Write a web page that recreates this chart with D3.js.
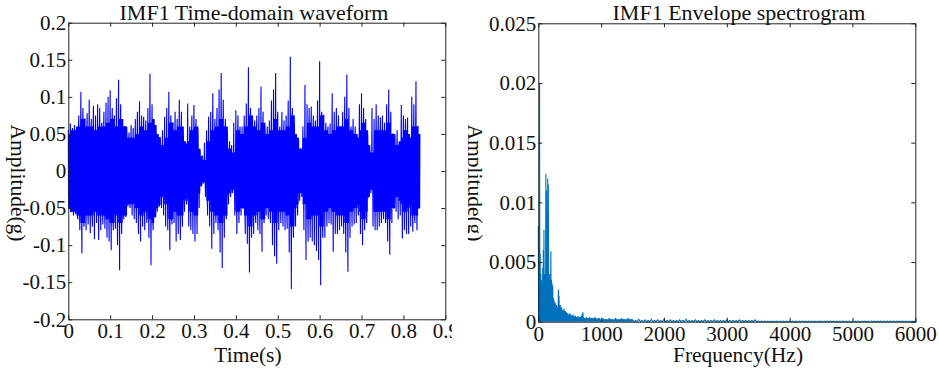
<!DOCTYPE html>
<html>
<head>
<meta charset="utf-8">
<script src="https://cdn.jsdelivr.net/npm/d3@7"></script>
<style>
  body { margin: 0; background: #fff; }
  text { font-family: "Liberation Serif", "Times New Roman", serif; fill: #111; }
</style>
</head>
<body>
<div id="chart"></div>
<script>
var width = 939, height = 374;

var waveStep = 0.005;
var waveHigh = [
  0.055,0.064,0.058,0.062,0.060,0.075,0.107,0.085,0.070,0.078,
  0.096,0.070,0.088,0.075,0.090,0.085,0.065,0.080,0.092,0.100,
  0.109,0.085,0.075,0.098,0.123,0.090,0.069,0.060,0.050,0.052,
  0.062,0.058,0.070,0.080,0.094,0.075,0.073,0.068,0.085,0.131,
  0.090,0.069,0.050,0.046,0.040,0.055,0.073,0.085,0.107,0.075,
  0.065,0.080,0.070,0.096,0.080,0.040,0.037,0.091,0.060,0.075,
  0.089,0.070,0.045,0.025,0.020,0.038,0.055,0.073,0.080,0.105,
  0.070,0.085,0.110,0.132,0.096,0.070,0.050,0.040,0.035,0.065,
  0.082,0.075,0.060,0.060,0.075,0.091,0.140,0.085,0.070,0.068,
  0.075,0.085,0.114,0.080,0.050,0.060,0.068,0.095,0.110,0.132,
  0.080,0.060,0.080,0.068,0.075,0.095,0.154,0.085,0.055,0.045,
  0.037,0.030,0.060,0.116,0.090,0.085,0.087,0.075,0.068,0.095,
  0.148,0.080,0.075,0.065,0.060,0.064,0.105,0.080,0.085,0.075,
  0.060,0.080,0.100,0.130,0.085,0.060,0.070,0.060,0.045,0.090,
  0.105,0.085,0.070,0.045,0.028,0.085,0.070,0.090,0.075,0.072,
  0.075,0.065,0.090,0.110,0.080,0.050,0.045,0.055,0.040,0.089,
  0.075,0.070,0.072,0.045,0.100,0.090,0.121,0.060
];
var waveLow = [
  -0.050,-0.055,-0.060,-0.058,-0.065,-0.080,-0.111,-0.075,-0.080,-0.072,
  -0.084,-0.075,-0.092,-0.070,-0.093,-0.080,-0.072,-0.078,-0.090,-0.095,
  -0.107,-0.080,-0.078,-0.100,-0.134,-0.085,-0.065,-0.062,-0.048,-0.050,
  -0.060,-0.065,-0.070,-0.085,-0.095,-0.075,-0.080,-0.070,-0.090,-0.127,
  -0.080,-0.062,-0.055,-0.048,-0.050,-0.060,-0.075,-0.080,-0.107,-0.072,
  -0.070,-0.095,-0.085,-0.093,-0.075,-0.055,-0.045,-0.075,-0.080,-0.085,
  -0.095,-0.085,-0.050,-0.020,-0.017,-0.035,-0.060,-0.075,-0.105,-0.085,
  -0.070,-0.080,-0.110,-0.131,-0.090,-0.065,-0.045,-0.035,-0.030,-0.060,
  -0.085,-0.070,-0.060,-0.050,-0.085,-0.098,-0.137,-0.090,-0.085,-0.070,
  -0.080,-0.085,-0.109,-0.070,-0.060,-0.065,-0.070,-0.100,-0.115,-0.125,
  -0.080,-0.070,-0.075,-0.080,-0.078,-0.110,-0.159,-0.090,-0.075,-0.060,
  -0.040,-0.035,-0.080,-0.120,-0.095,-0.090,-0.095,-0.100,-0.108,-0.120,
  -0.154,-0.090,-0.090,-0.075,-0.070,-0.072,-0.109,-0.085,-0.085,-0.080,
  -0.075,-0.085,-0.110,-0.136,-0.090,-0.075,-0.072,-0.070,-0.060,-0.085,
  -0.100,-0.080,-0.070,-0.035,-0.030,-0.075,-0.080,-0.080,-0.075,-0.070,
  -0.065,-0.070,-0.095,-0.113,-0.070,-0.050,-0.055,-0.065,-0.060,-0.091,
  -0.080,-0.085,-0.085,-0.075,-0.082,-0.070,-0.080,-0.050
];
// half-width of the solid blue core of the waveform, per 0.01 s
var coreStep = 0.01;
var waveCore = [
  0.055,0.055,0.060,0.070,0.060,0.060,0.055,0.060,0.060,0.065,
  0.070,0.060,0.070,0.060,0.045,0.045,0.050,0.060,0.055,0.065,
  0.070,0.050,0.035,0.045,0.065,0.055,0.060,0.060,0.040,0.055,
  0.060,0.030,0.015,0.040,0.055,0.060,0.070,0.060,0.030,0.025,
  0.055,0.050,0.060,0.075,0.060,0.055,0.065,0.050,0.055,0.070,
  0.055,0.055,0.060,0.075,0.050,0.030,0.045,0.065,0.060,0.060,
  0.075,0.055,0.050,0.055,0.060,0.060,0.070,0.055,0.050,0.055,
  0.065,0.055,0.025,0.055,0.055,0.055,0.065,0.050,0.035,0.045,
  0.055,0.050,0.060,0.060
];

// envelope spectrum peaks, 10 Hz bins from 0 to 1490 Hz
var specStep = 10;
var specLow = [
  0.0080,0.0058,0.0200,0.0057,0.0040,0.0035,0.0030,0.0045,0.0060,0.0077,
  0.0040,0.0035,0.0124,0.0110,0.0060,0.0120,0.0115,0.0040,0.0035,0.0040,
  0.0059,0.0035,0.0032,0.0030,0.0020,0.0018,0.0015,0.0016,0.0012,0.0014,
  0.0010,0.0013,0.0027,0.0022,0.0012,0.0014,0.0010,0.0012,0.0009,0.0010,
  0.0008,0.0011,0.0008,0.0009,0.0007,0.0008,0.0006,0.0007,0.0005,0.0006,
  0.0007,0.0005,0.0006,0.0004,0.0005,0.0006,0.0004,0.0005,0.0004,0.0005,
  0.0004,0.0003,0.0004,0.0005,0.0003,0.0004,0.0003,0.0004,0.0005,0.0004,
  0.0007,0.0008,0.0004,0.0003,0.0003,0.0002,0.0003,0.0004,0.0002,0.0003,
  0.0002,0.0003,0.0004,0.0003,0.0002,0.0003,0.0002,0.0003,0.0002,0.0003,
  0.0004,0.0002,0.0003,0.0002,0.0002,0.0003,0.0002,0.0003,0.0002,0.0002,
  0.0002,0.0001,0.0002,0.0003,0.0002,0.0001,0.0002,0.0002,0.0001,0.0002,
  0.0002,0.0001,0.0002,0.0003,0.0002,0.0001,0.0002,0.0002,0.0001,0.0002,
  0.0002,0.0001,0.0002,0.0003,0.0002,0.0001,0.0002,0.0002,0.0001,0.0002,
  0.0002,0.0001,0.0002,0.0003,0.0002,0.0001,0.0002,0.0002,0.0001,0.0002,
  0.0002,0.0001,0.0002,0.0003,0.0002,0.0001,0.0002,0.0002,0.0001,0.0002
];
// tail of the spectrum, 50 Hz bins from 1500 to 6000 Hz
var tailStep = 50;
var specTail = [
  0.00015,0.0001,0.0002,0.0001,0.00015,0.0001,0.0002,0.0001,0.00015,0.0001,
  0.0002,0.0001,0.00015,0.0001,0.0001,0.00015,0.0001,0.0002,0.0001,0.0001,
  0.00015,0.0001,0.0001,0.00015,0.0001,0.0001,0.00015,0.0001,0.0001,0.0001,
  0.00015,0.0001,0.0001,0.0001,0.00015,0.0001,0.0001,0.0001,0.0001,0.00015,
  0.00005,0.00005,0.00005,0.00005,0.00005,0.00005,0.00005,0.00005,0.00005,0.00005,
  0.00005,0.00005,0.00005,0.00005,0.00005,0.00005,0.00005,0.00005,0.00005,0.00005,
  0.00005,0.00005,0.00005,0.00005,0.00005,0.00005,0.00005,0.00005,0.00005,0.00005,
  0.00005,0.00005,0.00005,0.00005,0.00005,0.00005,0.00005,0.00005,0.00005,0.00005,
  0.00005,0.00005,0.00005,0.00005,0.00005,0.00005,0.00005,0.00005,0.00005,0.00005,
  0.00005
];

var timeTicks = [0, 0.1, 0.2, 0.3, 0.4, 0.5, 0.6, 0.7, 0.8, 0.9];
var ampTicks = [-0.2, -0.15, -0.1, -0.05, 0, 0.05, 0.1, 0.15, 0.2];
var freqTicks = [0, 1000, 2000, 3000, 4000, 5000, 6000];
var specTicks = [0, 0.005, 0.01, 0.015, 0.02, 0.025];

const svg = d3.select('#chart').append('svg')
  .attr('width', width)
  .attr('height', height);

var defs = svg.append('defs');

function drawPanel(p) {
  defs.append('clipPath').attr('id', p.id + 'Clip')
    .append('rect')
    .attr('x', p.clip[0]).attr('y', 0)
    .attr('width', p.clip[1] - p.clip[0]).attr('height', height);

  const g = svg.append('g').attr('clip-path', `url(#${p.id}Clip)`);

  const x = d3.scaleLinear().domain(p.xDomain).range([p.left, p.right]);
  const y = d3.scaleLinear().domain(p.yDomain).range([p.bottom, p.top]);

  // the data line
  g.append('path')
    .datum(p.points)
    .attr('fill', 'none')
    .attr('stroke', p.color)
    .attr('stroke-width', 1.1)
    .attr('d', d3.line().x(d => x(d[0])).y(d => y(d[1])));

  // box + inward ticks on all four sides
  const fmt = d => String(d);
  const axes = [
    { ax: d3.axisBottom(x).tickValues(p.xTicks).tickFormat(fmt).tickPadding(4), tr: `translate(0,${p.bottom})` },
    { ax: d3.axisTop(x).tickValues(p.xTicks).tickFormat(''), tr: `translate(0,${p.top})` },
    { ax: d3.axisLeft(y).tickValues(p.yTicks).tickFormat(fmt).tickPadding(2), tr: `translate(${p.left},0)` },
    { ax: d3.axisRight(y).tickValues(p.yTicks).tickFormat(''), tr: `translate(${p.right},0)` }
  ];
  axes.forEach(a => {
    const ag = g.append('g').attr('transform', a.tr)
      .call(a.ax.tickSizeInner(-4).tickSizeOuter(0));
    ag.attr('font-family', null);
    ag.select('.domain').attr('stroke', '#222');
    ag.selectAll('.tick line').attr('stroke', '#222');
    ag.selectAll('text').attr('font-size', 21).attr('fill', '#111');
  });

  g.append('text')
    .attr('x', p.titleX).attr('y', 20)
    .attr('text-anchor', 'middle').attr('font-size', 22)
    .text(p.title);

  g.append('text')
    .attr('x', p.xLabelX).attr('y', 362)
    .attr('text-anchor', 'middle').attr('font-size', 21.5)
    .text(p.xLabel);

  g.append('text')
    .attr('transform', `translate(${p.yLabelX},${183}) rotate(90)`)
    .attr('text-anchor', 'middle').attr('dy', '0.32em').attr('font-size', 21.5)
    .text(p.yLabel);
}

// waveform: inside each bin the signal swings across the core several
// times and reaches its max and min once
var wavePoints = [];
waveHigh.forEach((v, i) => {
  const t = i * waveStep;
  let c = waveCore[Math.min(waveCore.length - 1, Math.floor(t / coreStep + 1e-9))];
  c = Math.min(c, v, -waveLow[i]);
  const seq = [v, -c, c, -c, waveLow[i], c, -c, c];
  seq.forEach((s, j) => wavePoints.push([t + waveStep * j / seq.length, s]));
});

// spectrum: each bin a spike from the baseline
var specPoints = [];
specLow.forEach((v, k) => {
  specPoints.push([k * specStep, v]);
  specPoints.push([k * specStep + specStep / 2, 0]);
});
specTail.forEach((v, j) => {
  specPoints.push([1500 + j * tailStep, v]);
  specPoints.push([1500 + j * tailStep + tailStep / 2, 0]);
});

drawPanel({
  id: 'wave', clip: [0, 452],
  left: 68.3, right: 445.3, top: 22.7, bottom: 319.3,
  xDomain: [0, 0.9], yDomain: [-0.2, 0.2],
  xTicks: timeTicks, yTicks: ampTicks,
  points: wavePoints, color: '#0000ff',
  title: 'IMF1 Time-domain waveform', titleX: 254,
  xLabel: 'Time(s)', xLabelX: 248,
  yLabel: 'Amplitude(g)', yLabelX: 18
});

drawPanel({
  id: 'spec', clip: [468, width],
  left: 538.3, right: 915.3, top: 23.3, bottom: 321.7,
  xDomain: [0, 6000], yDomain: [0, 0.025],
  xTicks: freqTicks, yTicks: specTicks,
  points: specPoints, color: '#0072bd',
  title: 'IMF1 Envelope spectrogram', titleX: 739,
  xLabel: 'Frequency(Hz)', xLabelX: 738,
  yLabel: 'Amplitude(g)', yLabelX: 475
});
</script>
</body>
</html>
